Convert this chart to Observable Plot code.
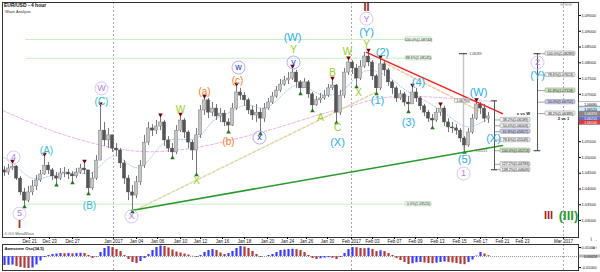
<!DOCTYPE html>
<html><head><meta charset="utf-8">
<script src="https://cdn.jsdelivr.net/npm/d3@7"></script>
<script src="https://cdn.jsdelivr.net/npm/@observablehq/plot@0.6"></script>
<style>
html,body{margin:0;padding:0;background:#fff;}
#wrap{position:relative;width:600px;height:272px;overflow:hidden;background:#fff;font-family:"Liberation Sans",Arial,sans-serif;}
#main{position:absolute;left:0;top:0;}
#osc{position:absolute;left:0;top:243px;}
.t{position:absolute;white-space:nowrap;line-height:1;}
</style></head><body>
<div id="wrap">
  <div id="main"></div><div id="osc"></div>
  <div class="t" style="left:4px;top:3px;font-size:5px;font-weight:bold;color:#111">EUR/USD - 4 hour</div>
  <div class="t" style="left:5px;top:10px;font-size:4px;color:#333">Wave Analysis</div>
  <div class="t" style="left:560px;top:3px;font-size:4.5px;color:#999">⊖⊖⊖</div>
  <div class="t" style="left:4px;top:232px;font-size:4px;color:#555">⊙ ⊙⊙ MetaWave</div>
</div>
<script>
// ---------- DATA ----------
const close = [
1.0452,1.0465,1.0471,1.0433,1.0389,1.0363,1.0389,1.0408,1.0427,1.0446,
1.0474,1.0459,1.0440,1.0433,1.0449,1.0452,1.0446,1.0440,1.0452,1.0465,
1.0459,1.0402,1.0433,1.0490,1.0585,1.0554,1.0570,1.0528,1.0522,1.0481,
1.0433,1.0389,1.0379,1.0421,1.0474,1.0547,1.0592,1.0585,1.0598,1.0611,
1.0554,1.0528,1.0516,1.0585,1.0617,1.0579,1.0547,1.0522,1.0570,1.0649,
1.0681,1.0642,1.0655,1.0630,1.0639,1.0611,1.0601,1.0655,1.0706,1.0696,
1.0681,1.0649,1.0633,1.0642,1.0623,1.0655,1.0674,1.0693,1.0712,1.0731,
1.0744,1.0750,1.0769,1.0738,1.0719,1.0738,1.0700,1.0665,1.0681,1.0687,
1.0696,1.0719,1.0728,1.0642,1.0696,1.0769,1.0801,1.0782,1.0750,1.0788,
1.0820,1.0801,1.0757,1.0719,1.0795,1.0776,1.0738,1.0719,1.0687,1.0700,
1.0674,1.0668,1.0706,1.0687,1.0662,1.0642,1.0623,1.0617,1.0642,1.0655,
1.0611,1.0595,1.0592,1.0585,1.0560,1.0538,1.0579,1.0623,1.0668,1.0655,
1.0623,1.0630];
const open = [
1.0459,1.0452,1.0465,1.0471,1.0433,1.0389,1.0363,1.0389,1.0408,1.0427,
1.0446,1.0474,1.0459,1.0440,1.0433,1.0449,1.0452,1.0446,1.0440,1.0452,
1.0465,1.0459,1.0402,1.0433,1.0490,1.0585,1.0554,1.0570,1.0528,1.0522,
1.0481,1.0433,1.0389,1.0379,1.0421,1.0474,1.0547,1.0592,1.0585,1.0598,
1.0611,1.0554,1.0528,1.0516,1.0585,1.0617,1.0579,1.0547,1.0522,1.0570,
1.0649,1.0681,1.0642,1.0655,1.0630,1.0639,1.0611,1.0601,1.0655,1.0706,
1.0696,1.0681,1.0649,1.0633,1.0642,1.0623,1.0655,1.0674,1.0693,1.0712,
1.0731,1.0744,1.0750,1.0769,1.0738,1.0719,1.0738,1.0700,1.0665,1.0681,
1.0687,1.0696,1.0719,1.0728,1.0642,1.0696,1.0769,1.0801,1.0782,1.0750,
1.0788,1.0820,1.0801,1.0757,1.0719,1.0795,1.0776,1.0738,1.0719,1.0687,
1.0700,1.0674,1.0668,1.0706,1.0687,1.0662,1.0642,1.0623,1.0617,1.0642,
1.0655,1.0611,1.0595,1.0592,1.0585,1.0560,1.0538,1.0579,1.0623,1.0668,
1.0655,1.0623];
const high = [
1.0471,1.0478,1.0484,1.0474,1.0440,1.0402,1.0408,1.0427,1.0443,1.0459,
1.0506,1.0484,1.0465,1.0452,1.0465,1.0468,1.0462,1.0455,1.0465,1.0478,
1.0484,1.0459,1.0452,1.0506,1.0665,1.0611,1.0592,1.0570,1.0544,1.0528,
1.0490,1.0443,1.0411,1.0440,1.0490,1.0570,1.0611,1.0604,1.0617,1.0630,
1.0617,1.0566,1.0544,1.0601,1.0633,1.0623,1.0585,1.0554,1.0592,1.0665,
1.0690,1.0687,1.0674,1.0668,1.0655,1.0649,1.0623,1.0671,1.0728,1.0719,
1.0706,1.0687,1.0662,1.0668,1.0655,1.0671,1.0687,1.0706,1.0725,1.0747,
1.0757,1.0769,1.0785,1.0776,1.0744,1.0750,1.0744,1.0706,1.0693,1.0703,
1.0712,1.0731,1.0747,1.0731,1.0712,1.0782,1.0811,1.0807,1.0795,1.0807,
1.0833,1.0836,1.0807,1.0763,1.0814,1.0807,1.0782,1.0744,1.0725,1.0712,
1.0706,1.0693,1.0725,1.0719,1.0693,1.0668,1.0649,1.0636,1.0655,1.0665,
1.0662,1.0623,1.0611,1.0604,1.0592,1.0566,1.0592,1.0636,1.0679,1.0674,
1.0668,1.0642];
const low = [
1.0440,1.0443,1.0459,1.0427,1.0379,1.0348,1.0357,1.0379,1.0395,1.0421,
1.0443,1.0446,1.0427,1.0417,1.0427,1.0436,1.0430,1.0424,1.0433,1.0446,
1.0446,1.0389,1.0395,1.0427,1.0490,1.0535,1.0528,1.0516,1.0503,1.0465,
1.0414,1.0363,1.0332,1.0370,1.0411,1.0465,1.0538,1.0566,1.0573,1.0585,
1.0535,1.0516,1.0503,1.0509,1.0579,1.0560,1.0528,1.0490,1.0449,1.0560,
1.0633,1.0623,1.0630,1.0617,1.0611,1.0598,1.0585,1.0598,1.0649,1.0681,
1.0662,1.0636,1.0617,1.0611,1.0579,1.0611,1.0649,1.0668,1.0687,1.0706,
1.0725,1.0731,1.0744,1.0719,1.0706,1.0719,1.0687,1.0652,1.0662,1.0671,
1.0681,1.0690,1.0712,1.0614,1.0633,1.0687,1.0760,1.0763,1.0728,1.0744,
1.0782,1.0788,1.0744,1.0706,1.0712,1.0757,1.0725,1.0700,1.0674,1.0681,
1.0662,1.0649,1.0668,1.0674,1.0649,1.0630,1.0611,1.0598,1.0611,1.0630,
1.0598,1.0579,1.0576,1.0570,1.0547,1.0521,1.0532,1.0573,1.0617,1.0636,
1.0611,1.0608];
const ao = [
-0.0090,-0.0088,-0.0086,-0.0100,-0.0110,-0.0118,-0.0120,-0.0115,-0.0085,-0.0045,
-0.0010,0.0010,0.0020,0.0025,0.0030,0.0028,0.0030,0.0027,0.0030,0.0032,
0.0030,0.0010,-0.0020,-0.0005,0.0040,0.0080,0.0100,0.0090,0.0070,0.0050,
0.0010,-0.0030,-0.0060,-0.0070,-0.0050,-0.0020,0.0020,0.0060,0.0090,0.0105,
0.0100,0.0085,0.0065,0.0045,0.0035,0.0025,0.0015,0.0002,-0.0010,0.0010,
0.0040,0.0060,0.0070,0.0060,0.0035,0.0020,0.0030,0.0050,0.0080,0.0100,
0.0095,0.0080,0.0050,0.0020,-0.0010,0.0000,0.0010,0.0020,0.0040,0.0060,
0.0065,0.0070,0.0072,0.0068,0.0060,0.0040,0.0010,-0.0020,-0.0030,-0.0022,
-0.0016,-0.0012,-0.0018,-0.0030,-0.0010,0.0030,0.0070,0.0090,0.0088,0.0080,
0.0078,0.0082,0.0070,0.0050,0.0058,0.0050,0.0030,0.0010,-0.0020,-0.0040,
-0.0060,-0.0080,-0.0072,-0.0062,-0.0060,-0.0065,-0.0070,-0.0072,-0.0066,-0.0060,
-0.0055,-0.0060,-0.0065,-0.0070,-0.0078,-0.0082,-0.0060,-0.0035,0.0005,0.0040,
0.0025,0.0008];

const tickLabel = ["Dec 21","Dec 23","Dec 27","Jan 2017","Jan 04","Jan 06","Jan 10","Jan 12","Jan 16","Jan 18","Jan 20","Jan 24","Jan 26","Jan 30","Feb 2017","Feb 03","Feb 07","Feb 09","Feb 13","Feb 15","Feb 17","Feb 21","Feb 23","Mar 2017"];
const tickBar = [6.25,11.25,17,27.25,33,38.25,44,49,54.5,60,65.75,70.75,75.5,80.75,86.75,92,97.5,102.75,108.25,113.75,119,124.5,129.5,139.75];
const periodBar = [27.25, 86.75, 139.75];
const priceTicks = [1.030,1.035,1.040,1.045,1.050,1.055,1.070,1.075,1.080,1.085,1.090,1.095];
const oscTicks = [0.01,-0.01];
const oscLast = 0.00024;

const swingHighIdx = [2,10,20,24,39,44,50,58,72,82,86,91,94,102,109,118];
const swingLowIdx = [5,13,17,21,32,42,48,56,64,74,77,83,88,93,101,107,115];

const waveText  = ["4","5","(A)","(B)","(C)","W","X","W","X","(a)","(b)","(c)","w","x","y","Y","(W)","A","B","C","(X)","W","X","Y","(Y)","Y","II","(1)","(2)","(3)","(4)","(5)","1","(W)","(X)","2","(Y)","III","(III)","I"];
const waveBar   = [2.25,3.75,10.5,21.25,24.25,24.25,31.75,44,48,50,56,58.25,58.5,63.75,72.25,72.25,72,79,82,83.25,83.25,85.75,88.5,90.5,90.5,90.5,90.5,93.25,94.5,101,103.5,115,114.75,118.5,122.25,133.25,133.25,136,141,3.75];
const wavePrice = [1.0500,1.0322,1.0522,1.0348,1.0677,1.0719,1.0313,1.0652,1.0427,1.0709,1.0551,1.0744,1.0785,1.0563,1.0801,1.0842,1.0880,1.0627,1.0769,1.0595,1.0547,1.0836,1.0706,1.0858,1.0896,1.0940,1.0977,1.0681,1.0833,1.0611,1.0738,1.0494,1.0449,1.0706,1.0560,1.0801,1.0760,1.0316,1.0316,1.0289];
const waveDegree= ["P","P","T","T","T","P","P","G","G","O","O","O","B","B","B","G","C","G","G","G","C","G","G","G","C","P","R","C","C","C","C","C","P","C","C","P","C","R","GR","R"];

const pinkBar = [-0.5,5.25,11.5,17.75,24,30.25,36.5,42.75,49,55.25,61.5,67.75,74,80.25,86.5,92.75,99,105.25,111.5,117.75,121.5];
const pinkPrice = [1.0649,1.0617,1.0585,1.0560,1.0538,1.0522,1.0516,1.0522,1.0532,1.0551,1.0570,1.0592,1.0617,1.0642,1.0662,1.0687,1.0696,1.0693,1.0687,1.0681,1.0678];
const blueBar = [-0.5,2,5,8,11.5,15.25,19,22,25,28,31,34,37,40,43,46,49,52,55,58,61,64,67,70,73,76,79,82,85,88,91,94,97,100,103,106,109,112,115,118,121];
const bluePrice = [1.0500,1.0490,1.0443,1.0427,1.0443,1.0449,1.0452,1.0443,1.0490,1.0516,1.0474,1.0459,1.0506,1.0554,1.0560,1.0554,1.0560,1.0623,1.0633,1.0655,1.0674,1.0649,1.0665,1.0706,1.0738,1.0719,1.0696,1.0696,1.0712,1.0760,1.0782,1.0769,1.0750,1.0712,1.0696,1.0674,1.0649,1.0623,1.0592,1.0601,1.0623];

const redLineBar = [90.5, 124.5],   redLinePrice = [1.0833, 1.0639];
const greenLineBar = [31.75, 124.5], greenLinePrice = [1.0332, 1.0538];
const beigeBar = [34, 92.75],       beigePrice = [1.0341, 1.0706];
const orangeBar = [94.75, 118.5],   orangePrice = [1.0801, 1.0649];

const fibLeftPrice = [1.08740, 1.08145, 1.03520];
const fibLeftText = ["100.0%(1.08740)","88.6%(1.08145)","0.0%(1.03520)"];
const fibMidPrice = [1.06189,1.06003,1.05817,1.05549,1.05213,1.04783,1.04609];
const fibMidText = ["38.2%(1.06189)","50.0%(1.06003)","61.8%(1.05817)","78.6%(1.05549)","100.0%(1.05213)","127.2%(1.04783)","138.2%(1.04609)"];
const fibMidTop = 1.06793;
const fibRightPrice = [1.08289,1.07613,1.07118,1.06752,1.06389];
const fibRightText = ["100.0%(1.08289)","78.6%(1.07613)","61.8%(1.07118)","50.0%(1.06752)","38.2%(1.06389)"];
const fibRightBottom = 1.05213;
const curPrice = [1.0668,1.0652,1.0637,1.0621,1.0610];

// ---------- BUILD ----------
const font = '"Liberation Sans", Arial, sans-serif';
const bars = close.map((c,i)=>({i, o:open[i], h:high[i], l:low[i], c}));
const pts = (b,p)=>b.map((v,k)=>({i:v, p:p[k]}));
const waves = waveText.map((t,k)=>({t, i:waveBar[k], p:wavePrice[k], s:waveDegree[k]}));
const S = {
  P:{fill:"#b07ff0", size:9, circle:"#d6bcfb"},
  T:{fill:"#2fc2cf", size:10},
  C:{fill:"#27aeea", size:11},
  G:{fill:"#9ccc1c", size:10},
  O:{fill:"#ff7a22", size:10},
  B:{fill:"#2233d8", size:9, circle:"#a4a4ff"},
  R:{fill:"#a02222", size:11},
  GR:{fill:"#2f9a2f", size:13}
};
const waveMarks = [];
for (const k of Object.keys(S)) {
  const d = waves.filter(w=>w.s===k);
  if (S[k].circle) waveMarks.push(Plot.dot(d, {x:"i", y:"p", r:6.5, stroke:S[k].circle, strokeWidth:0.9, fill:"none"}));
  waveMarks.push(Plot.text(d, {x:"i", y:"p", text:"t", fill:S[k].fill, fontSize:S[k].size, fontWeight: (k==="R"||k==="GR")?"bold":"normal"}));
}
const boxH = 0.00068;
function fibLabels(prices, texts, x1, x2, fills, stroke) {
  const d = prices.map((p,k)=>({p, t:texts[k], f:fills(texts[k])}));
  return [
    Plot.rect(d, {x1:()=>x1, x2:()=>x2, y1:d=>d.p-boxH, y2:d=>d.p+boxH, fill:"f", stroke, strokeWidth:0.5, rx:1}),
    Plot.text(d, {x:()=>(x1+x2)/2, y:"p", text:"t", fontSize:3.6, fill:"#222"})
  ];
}
const midFill = t => t.startsWith("61.8") ? "#c9cdf2" : t.startsWith("100.0") ? "#cfeac0" : "#f2f2f2";
const rightFill = t => t.startsWith("61.8") ? "#cfeac0" : t.startsWith("50.0") ? "#c9cdf2" : "#f2f2f2";
const curFill = ["#ffffff","#cdeffc","#8a8a8a","#6c6cd8","#e03c3c"];
const curText = ["#000","#000","#fff","#fff","#fff"];
const curData = curPrice.map((p,k)=>({p, f:curFill[k], tc:curText[k]}));

const main = Plot.plot({
  width:600, height:243, marginLeft:2, marginRight:22, marginTop:2, marginBottom:6,
  x:{domain:[-0.5,143.5], axis:null},
  y:{domain:[1.02462,1.09912], axis:null},
  style:{fontFamily:font, background:"#fff", overflow:"visible"},
  marks:[
    Plot.ruleX(periodBar, {stroke:"#aaa", strokeDasharray:"2,2"}),
    Plot.ruleY(fibLeftPrice, {x1:()=>5.25, x2:()=>107, stroke:"#c6f0c6"}),
    Plot.line(pts(pinkBar,pinkPrice), {x:"i", y:"p", stroke:"#e4a8e4", strokeDasharray:"3,2", curve:"basis", strokeWidth:0.9}),
    Plot.line(pts(blueBar,bluePrice), {x:"i", y:"p", stroke:"#a8c4f4", strokeDasharray:"1.5,1.5", curve:"basis", strokeWidth:0.9}),
    Plot.line(pts(beigeBar,beigePrice), {x:"i", y:"p", stroke:"#ddd8a8", strokeDasharray:"3,2"}),
    Plot.line(pts(orangeBar,orangePrice), {x:"i", y:"p", stroke:"#f8c8a0", strokeDasharray:"3,2"}),
    // measuring line
    Plot.ruleX([114.75], {y1:()=>fibRightPrice[0], y2:()=>fibRightBottom, stroke:"#c4c4c4", strokeWidth:1.5}),
    Plot.ruleY([fibRightPrice[0]], {x1:()=>113.75, x2:()=>115.75, stroke:"#333"}),
    Plot.text([fibRightPrice[0]], {x:()=>116.2, y:d=>d, text:d=>d.toFixed(5), fontSize:3.4, fill:"#444", textAnchor:"start"}),
    // candles
    Plot.ruleX(bars, {x:"i", y1:"l", y2:"h", stroke:"#777", strokeWidth:1}),
    Plot.rect(bars.filter(b=>b.c>=b.o), {x1:d=>d.i-0.4, x2:d=>d.i+0.4, y1:"o", y2:d=>Math.max(d.c,d.o+0.00012), fill:"#c4c4c4", stroke:"#666", strokeWidth:0.4}),
    Plot.rect(bars.filter(b=>b.c<b.o), {x1:d=>d.i-0.4, x2:d=>d.i+0.4, y1:"c", y2:"o", fill:"#555", stroke:"#444", strokeWidth:0.4}),
    // swing markers
    Plot.dot(swingHighIdx, {x:d=>d, y:d=>high[d], symbol:"triangle", r:1.7, fill:"#7a0000", rotate:180, dy:-1.5}),
    Plot.dot(swingLowIdx, {x:d=>d, y:d=>low[d], symbol:"triangle", r:1.7, fill:"#1f7a1f", dy:1.5}),
    // trend lines
    Plot.line(pts(redLineBar,redLinePrice), {x:"i", y:"p", stroke:"#f02020", strokeWidth:1.5}),
    Plot.line(pts(greenLineBar,greenLinePrice), {x:"i", y:"p", stroke:"#2a982a", strokeWidth:1.5}),
    // middle fib tool
    Plot.ruleX([122.5], {y1:()=>fibMidTop, y2:()=>fibMidPrice[6], stroke:"#555"}),
    Plot.ruleY([fibMidTop, fibMidPrice[6]], {x1:()=>121.75, x2:()=>123.25, stroke:"#333"}),
    Plot.ruleY(fibMidPrice, {x1:()=>122.5, x2:()=>124, stroke:"#666", strokeWidth:0.6}),
    ...fibLabels(fibMidPrice, fibMidText, 124, 131.5, midFill, "#888"),
    Plot.text(["x vs W"], {x:()=>129.75, y:()=>1.0639, text:d=>d, fontSize:4.2, fontWeight:"bold", fill:"#222"}),
    // right fib tool
    Plot.ruleX([133.25], {y1:()=>fibRightPrice[0], y2:()=>fibRightBottom, stroke:"#555"}),
    Plot.ruleY([fibRightPrice[0], fibRightBottom], {x1:()=>132.4, x2:()=>134.1, stroke:"#333"}),
    Plot.ruleY(fibRightPrice, {x1:()=>133.25, x2:()=>135.25, stroke:"#666", strokeWidth:0.6}),
    ...fibLabels(fibRightPrice, fibRightText, 135.25, 142.75, rightFill, "#888"),
    Plot.text(["2 vs 1"], {x:()=>139.75, y:()=>1.0623, text:d=>d, fontSize:4.2, fontWeight:"bold", fill:"#222"}),
    // left fib labels
    ...fibLabels(fibLeftPrice, fibLeftText, 100.25, 106.75, ()=>"#f3fff3", "#9c9"),
    // small price tags near (W)
    Plot.rect([fibMidTop], {x1:()=>112.6, x2:()=>116.4, y1:d=>d-boxH, y2:d=>d+boxH, fill:"#f2f2f2", stroke:"#999", strokeWidth:0.5}),
    Plot.text([fibMidTop], {x:()=>114.5, y:d=>d, text:d=>d.toFixed(5), fontSize:3.4, fill:"#333"}),
    Plot.text([fibRightBottom], {x:()=>119.2, y:d=>d-0.0002, text:d=>d.toFixed(5), fontSize:3.2, fill:"#555"}),
    ...waveMarks,
    Plot.frame({stroke:"#333"}),
    Plot.axisY({anchor:"right", ticks:priceTicks, tickFormat:d=>d.toFixed(5), fontSize:4, tickSize:2, tickPadding:1, fill:"#111"}),
    Plot.axisX({anchor:"bottom", ticks:tickBar, tickFormat:d=>tickLabel[tickBar.indexOf(d)], fontSize:4.5, tickSize:2, tickPadding:0, fill:"#111"}),
    Plot.rect(curData, {x1:()=>143.7, x2:()=>149.3, y1:d=>d.p-boxH, y2:d=>d.p+boxH, fill:"f", stroke:"#555", strokeWidth:0.4}),
    Plot.text(curData, {x:()=>146.5, y:"p", text:d=>d.p.toFixed(5), fontSize:3.5, fill:"tc"})
  ]
});
document.getElementById("main").appendChild(main);

const aoData = ao.map((v,i)=>({i, v, up: i===0 || v>=ao[i-1]}));
const osc = Plot.plot({
  width:600, height:29, marginLeft:2, marginRight:22, marginTop:1, marginBottom:2,
  x:{domain:[-0.5,143.5], axis:null},
  y:{domain:[-0.014,0.012], axis:null},
  style:{fontFamily:font, background:"#fff", overflow:"visible"},
  marks:[
    Plot.ruleX(periodBar, {stroke:"#aaa", strokeDasharray:"2,2"}),
    Plot.ruleY([0], {stroke:"#999", strokeDasharray:"1,1"}),
    Plot.ruleX(aoData.filter(d=>d.up), {x:"i", y1:0, y2:"v", stroke:"#3b3bff", strokeWidth:2.2}),
    Plot.ruleX(aoData.filter(d=>!d.up), {x:"i", y1:0, y2:"v", stroke:"#b23a3a", strokeWidth:2.2}),
    Plot.frame({stroke:"#333"}),
    Plot.text(["Awesome Osc(34,5)"], {frameAnchor:"top-left", dx:2, dy:3, text:d=>d, fontSize:4.2, fontWeight:"bold", fill:"#111"}),
    Plot.axisY({anchor:"right", ticks:oscTicks, tickFormat:d=>d.toFixed(5), fontSize:3.8, tickSize:2, tickPadding:1, fill:"#111", dy:1}),
    Plot.rect([oscLast], {x1:()=>143.7, x2:()=>149.3, y1:()=>-0.0009, y2:()=>0.0009, fill:"#fff", stroke:"#333", strokeWidth:0.5}),
    Plot.text([oscLast], {x:()=>146.5, y:()=>0, text:d=>d.toFixed(5), fontSize:3.6, fill:"#111"})
  ]
});
document.getElementById("osc").appendChild(osc);
</script>
</body></html>
